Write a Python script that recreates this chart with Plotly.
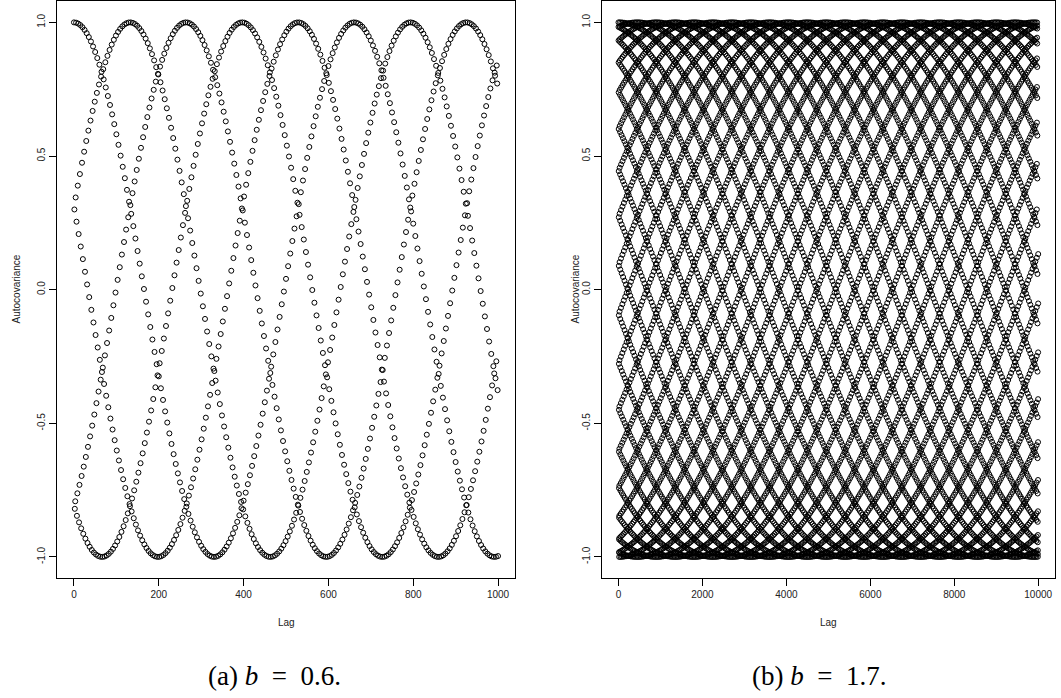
import numpy as np
import plotly.graph_objects as go

# ---- data ----
# Each panel is a sampled cosine autocovariance: points fall on `curves_*`
# interleaved cosine curves whose phase drifts one full turn every `beat_*` lags.
lags_a = np.arange(0, 1001)
curves_a = 5          # interleaved curves visible in panel (a)
beat_a = 661.0        # lags per full drift (peaks every beat/5 ~ 132 lags)

lags_b = np.arange(0, 10001)
curves_b = 34         # interleaved curves visible in panel (b)
beat_b = 34 * 450.0   # y=0 crossings every ~450 lags

acf_a = np.cos(2 * np.pi * (lags_a / curves_a + lags_a / beat_a))
acf_b = np.cos(2 * np.pi * (lags_b / curves_b + lags_b / beat_b))

ytick_vals = [-1.0, -0.5, 0.0, 0.5, 1.0]
ytick_text = ["-1.0", "-0.5", "0.0", "0.5", "1.0"]
xticks_a = [0, 200, 400, 600, 800, 1000]
xticks_b = [0, 2000, 4000, 6000, 8000, 10000]
captions = ["(a) <i>b</i>&nbsp;&nbsp;=&nbsp;&nbsp;0.6.", "(b) <i>b</i>&nbsp;&nbsp;=&nbsp;&nbsp;1.7."]

W, H = 1061, 698
FONT = "Liberation Sans, Arial, Helvetica, sans-serif"
SERIF = "Liberation Serif, Times New Roman, DejaVu Serif, serif"

fig = go.Figure()
marker = dict(symbol="circle-open", size=5, color="black", line=dict(width=1.0, color="black"))
fig.add_trace(go.Scatter(x=lags_a, y=acf_a, mode="markers", marker=marker,
                         xaxis="x", yaxis="y", showlegend=False, hoverinfo="skip"))
fig.add_trace(go.Scatter(x=lags_b, y=acf_b, mode="markers", marker=marker,
                         xaxis="x2", yaxis="y2", showlegend=False, hoverinfo="skip"))

ydom = [1 - 578.3 / H, 1 - 1.0 / H]
dom_a = [57.0 / W, 515.0 / W]
dom_b = [601.7 / W, 1055.0 / W]

def xaxis(dom, ticks, rng, anchor):
    return dict(domain=dom, range=rng, tickmode="array", tickvals=ticks,
                ticktext=[str(t) for t in ticks], ticks="outside", ticklen=7,
                tickwidth=1, tickcolor="black", showline=True, linecolor="black",
                linewidth=1, mirror=True, showgrid=False, zeroline=False,
                tickfont=dict(family=FONT, size=10, color="#222"), anchor=anchor)

def yaxis(anchor):
    return dict(domain=ydom, range=[-1.08, 1.08], tickmode="array", tickvals=ytick_vals,
                ticktext=ytick_text, tickangle=-90, ticks="outside", ticklen=7,
                tickwidth=1, tickcolor="black", showline=True, linecolor="black",
                linewidth=1, mirror=True, showgrid=False, zeroline=False,
                tickfont=dict(family=FONT, size=10, color="#222"), anchor=anchor)

fig.update_layout(
    width=W, height=H, margin=dict(l=0, r=0, t=0, b=0),
    paper_bgcolor="white", plot_bgcolor="white",
    xaxis=xaxis(dom_a, xticks_a, [-40, 1040], "y"),
    yaxis=yaxis("x"),
    xaxis2=xaxis(dom_b, xticks_b, [-400, 10400], "y2"),
    yaxis2=yaxis("x2"),
)

annos = []
for dom, cap, left_px in zip([dom_a, dom_b], captions, [206.0, 750.0]):
    cx = (dom[0] + dom[1]) / 2
    annos.append(dict(x=cx, y=1 - 622.7 / H, xref="paper", yref="paper", text="Lag",
                      showarrow=False, font=dict(family=FONT, size=10, color="#222"),
                      xanchor="center", yanchor="middle"))
    annos.append(dict(x=left_px / W, y=1 - 676.0 / H, xref="paper", yref="paper", text=cap,
                      showarrow=False, font=dict(family=SERIF, size=27, color="black"),
                      xanchor="left", yanchor="middle"))
for xpx in [16.0, 575.0]:
    annos.append(dict(x=xpx / W, y=1 - 289.5 / H, xref="paper", yref="paper",
                      text="Autocovariance", textangle=-90, showarrow=False,
                      font=dict(family=FONT, size=10, color="#222"),
                      xanchor="center", yanchor="middle"))
fig.update_layout(annotations=annos)

fig.write_html("out.html", config={"displayModeBar": False},
               post_script="document.body.style.margin='0';document.body.style.overflow='hidden';")
